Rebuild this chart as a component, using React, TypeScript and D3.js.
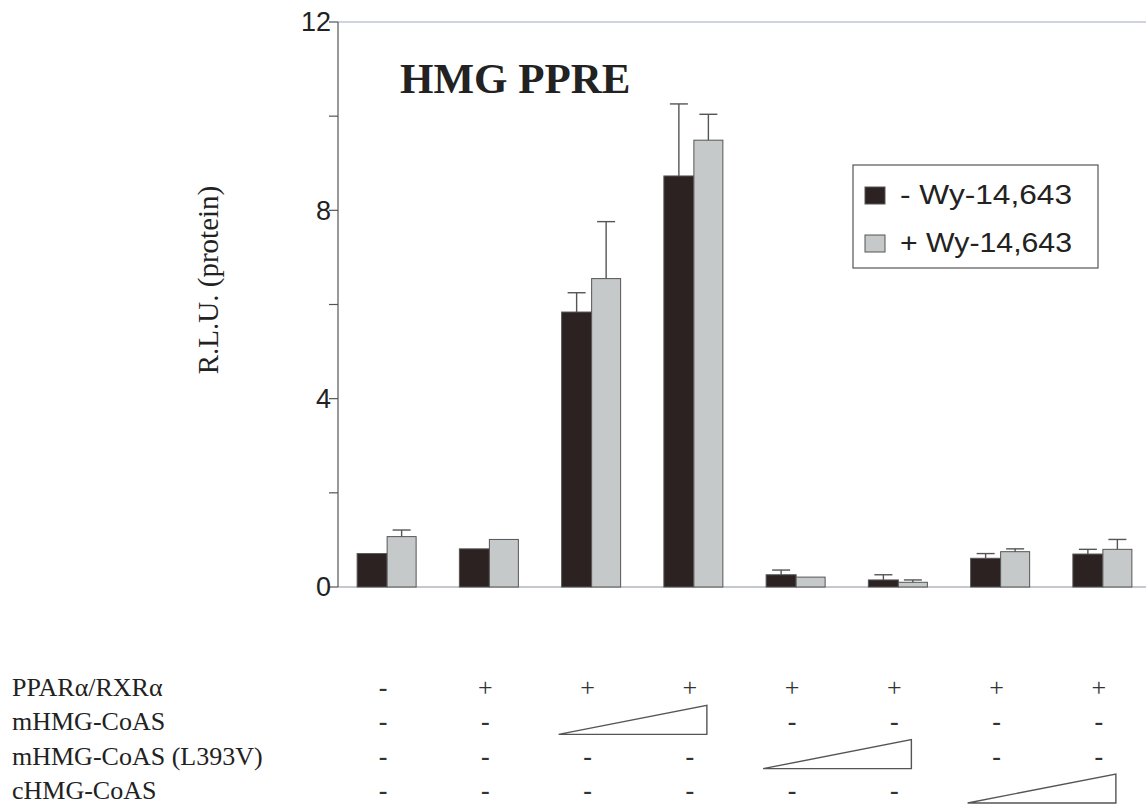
import React from "react";
import * as d3 from "d3";

const lanes = ["L1", "L2", "L3", "L4", "L5", "L6", "L7", "L8"];
const seriesNames = ["- Wy-14,643", "+ Wy-14,643"];
const minusWy = [0.71, 0.81, 5.84, 8.73, 0.26, 0.15, 0.61, 0.7];
const minusErr = [0, 0, 0.41, 1.53, 0.1, 0.11, 0.1, 0.1];
const plusWy = [1.07, 1.01, 6.55, 9.49, 0.21, 0.1, 0.75, 0.8];
const plusErr = [0.14, 0, 1.21, 0.55, 0, 0.05, 0.06, 0.21];
const yTicks = [0, 2, 4, 6, 8, 10, 12];
const yLabelTicks = [0, 4, 8, 12];

const rowLabels = ["PPARα/RXRα", "mHMG-CoAS", "mHMG-CoAS (L393V)", "cHMG-CoAS"];
const rowCells = [
  ["-", "+", "+", "+", "+", "+", "+", "+"],
  ["-", "-", "ramp", "ramp", "-", "-", "-", "-"],
  ["-", "-", "-", "-", "ramp", "ramp", "-", "-"],
  ["-", "-", "-", "-", "-", "-", "ramp", "ramp"],
];

const W = 1146;
const H = 806;
const AX = 338;
const Y0 = 587;
const Y1 = 22;

export default function App() {
  const x = d3.scaleBand<string>().domain(lanes).range([336, 1154]);
  const sub = d3.scaleBand<string>().domain(seriesNames).range([-30, 30]);
  const y = d3.scaleLinear().domain([0, 12]).range([Y0, Y1]);
  const rowY = d3.scaleLinear().domain([0, 3]).range([696, 799]);
  const cx = (l: string) => (x(l) as number) + x.bandwidth() / 2;

  const series = [
    { name: seriesNames[0], vals: minusWy, errs: minusErr, fill: "#2b2221", w: 30 },
    { name: seriesNames[1], vals: plusWy, errs: plusErr, fill: "#c5c9c9", w: 29 },
  ];

  const serif = "'Liberation Serif', 'Times New Roman', serif";
  const sans = "'Liberation Sans', Arial, sans-serif";

  return (
    <svg
      width={W}
      height={H}
      style={{ position: "absolute", left: 0, top: 0, background: "#fff" }}
    >
      {/* frame lines */}
      <line x1={AX} x2={W} y1={Y1} y2={Y1} stroke="#9fa9bd" strokeWidth={1.2} />
      <line x1={AX} x2={W} y1={Y0} y2={Y0} stroke="#8c93a0" strokeWidth={1.2} />
      <line x1={AX} x2={AX} y1={Y1} y2={Y0} stroke="#555" strokeWidth={1.2} />
      {yTicks.map((t) => (
        <line key={"t" + t} x1={AX - 9} x2={AX} y1={y(t)} y2={y(t)} stroke="#555" strokeWidth={1.2} />
      ))}
      {yLabelTicks.map((t) => (
        <text
          key={"l" + t}
          x={331}
          y={y(t)}
          dy="0.35em"
          textAnchor="end"
          fontFamily={sans}
          fontSize={27}
          fill="#222"
        >
          {t}
        </text>
      ))}
      <text
        transform={`translate(218,280) rotate(-90)`}
        textAnchor="middle"
        fontFamily={serif}
        fontSize={29}
        fill="#222"
      >
        R.L.U. (protein)
      </text>
      <text x={400} y={93} fontFamily={serif} fontWeight="bold" fontSize={43} fill="#222">
        HMG PPRE
      </text>

      {/* bars */}
      {series.map((s) =>
        lanes.map((l, i) => {
          const x0 = cx(l) + (sub(s.name) as number);
          const xc = x0 + s.w / 2;
          const top = y(s.vals[i]);
          const et = y(s.vals[i] + s.errs[i]);
          return (
            <g key={s.name + l}>
              <rect
                x={x0}
                y={top}
                width={s.w}
                height={Y0 - top}
                fill={s.fill}
                stroke="#555"
                strokeWidth={1}
              />
              {s.errs[i] > 0 && (
                <g stroke="#555" strokeWidth={1.4}>
                  <line x1={xc} x2={xc} y1={top} y2={et} />
                  <line x1={xc - 9} x2={xc + 9} y1={et} y2={et} />
                </g>
              )}
            </g>
          );
        })
      )}

      {/* legend */}
      <rect x={853} y={165} width={245} height={103} fill="#fff" stroke="#555" strokeWidth={1.2} />
      {series.map((s, i) => (
        <g key={"lg" + i}>
          <rect x={865} y={187 + i * 48} width={20} height={17} fill={s.fill} stroke="#555" strokeWidth={1} />
          <text
            x={900}
            y={204 + i * 48}
            fontFamily={sans}
            fontSize={27}
            textLength={172}
            lengthAdjust="spacingAndGlyphs"
            fill="#222"
          >
            {s.name}
          </text>
        </g>
      ))}

      {/* condition table */}
      {rowLabels.map((r, ri) => (
        <g key={"row" + ri}>
          <text x={12} y={rowY(ri)} fontFamily={serif} fontSize={26} fill="#222">
            {r}
          </text>
          {rowCells[ri].map((c, ci) =>
            c === "ramp" ? null : (
              <text
                key={ci}
                x={cx(lanes[ci]) - 4}
                y={rowY(ri)}
                textAnchor="middle"
                fontFamily={serif}
                fontSize={26}
                fontWeight={c === "-" ? "bold" : "normal"}
                fill="#333"
              >
                {c}
              </text>
            )
          )}
          {rowCells[ri].map((c, ci) => {
            if (c !== "ramp" || rowCells[ri][ci - 1] === "ramp") return null;
            const left = cx(lanes[ci]) - 33;
            const right = cx(lanes[ci + 1]) + 13;
            const bottom = rowY(ri) + 4;
            const top = bottom - 29;
            return (
              <path
                key={"r" + ci}
                d={`M${left},${bottom}L${right},${top}L${right},${bottom}Z`}
                fill="none"
                stroke="#555"
                strokeWidth={1.4}
              />
            );
          })}
        </g>
      ))}
    </svg>
  );
}
